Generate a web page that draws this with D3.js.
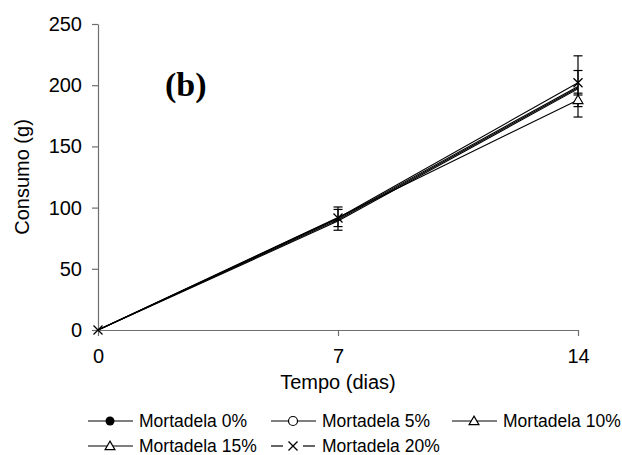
<!DOCTYPE html>
<html>
<head>
<meta charset="utf-8">
<script src="https://cdn.jsdelivr.net/npm/d3@7/dist/d3.min.js"></script>
<style>
  html, body { margin: 0; padding: 0; background: #fff; }
  svg { display: block; }
  text { fill: #000; }
</style>
</head>
<body>
<svg id="chart" width="622" height="455"></svg>
<script>
// Consumption (g) over time (days) for each mortadela level
const days = [0, 7, 14];
const xTicks = [0, 7, 14];
const yTicks = [0, 50, 100, 150, 200, 250];
const seriesNames = ["Mortadela 0%", "Mortadela 5%", "Mortadela 10%", "Mortadela 15%", "Mortadela 20%"];
const markerTypes = ["dot", "circle", "triangle", "triangle", "cross"];

const consumo0  = [0, 91, 199];
const consumo5  = [0, 90, 198];
const consumo10 = [0, 89, 197];
const consumo15 = [0, 92, 188];
const consumo20 = [0, 91.5, 202];

// standard deviations (0 = no bar drawn)
const erro0  = [0, 9.5, 25];
const erro5  = [0, 0, 0];
const erro10 = [0, 0, 0];
const erro15 = [0, 0, 5.5];
const erro20 = [0, 7, 10];

// days on which each series' marker is drawn on the plot
const markerDays0  = [];
const markerDays5  = [];
const markerDays10 = [];
const markerDays15 = [14];
const markerDays20 = [0, 7, 14];

const values = [consumo0, consumo5, consumo10, consumo15, consumo20];
const errors = [erro0, erro5, erro10, erro15, erro20];
const markerDays = [markerDays0, markerDays5, markerDays10, markerDays15, markerDays20];

const series = seriesNames.map((name, i) => ({
  name, marker: markerTypes[i],
  points: days.map((d, j) => ({ day: d, v: values[i][j], err: errors[i][j] }))
}));

const SANS = "'Liberation Sans', Arial, sans-serif";
const SERIF = "'Liberation Serif', 'Times New Roman', serif";

const svg = d3.select("#chart");
const x = d3.scaleLinear().domain([0, 14]).range([98, 578]);
const y = d3.scaleLinear().domain([0, 250]).range([330, 24]);
const axisColor = "#6e6e6e";

// axes
const yAxis = svg.append("g").attr("transform", `translate(${x(0)},0)`)
  .call(d3.axisLeft(y).tickValues(yTicks).tickSize(6).tickPadding(10).tickSizeOuter(0));
const xAxis = svg.append("g").attr("transform", `translate(0,${y(0)})`)
  .call(d3.axisBottom(x).tickValues(xTicks).tickSize(6).tickPadding(13).tickSizeOuter(0));
[yAxis, xAxis].forEach(g => {
  g.selectAll("path.domain").attr("stroke", axisColor).attr("stroke-width", 1.2);
  g.selectAll(".tick line").attr("stroke", axisColor).attr("stroke-width", 1.2);
  g.selectAll(".tick text").style("font-size", "20px").style("font-family", SANS).attr("fill", "#000");
});

// axis titles
svg.append("text").attr("x", (x(0) + x(14)) / 2).attr("y", 389)
  .attr("text-anchor", "middle").style("font-family", SANS).style("font-size", "20px").text("Tempo (dias)");
svg.append("text").attr("transform", `translate(29,${(y(0) + y(250)) / 2}) rotate(-90)`)
  .attr("text-anchor", "middle").style("font-family", SANS).style("font-size", "20px").text("Consumo (g)");

// panel label
svg.append("text").attr("x", 165).attr("y", 96)
  .style("font-family", SERIF).style("font-weight", "bold").style("font-size", "34px").text("(b)");

// lines
const line = d3.line().x(p => x(p.day)).y(p => y(p.v));
svg.append("g").selectAll("path").data(series).join("path")
  .attr("d", s => line(s.points))
  .attr("fill", "none").attr("stroke", "#000").attr("stroke-width", 1.1);

// error bars
const bars = svg.append("g").attr("stroke", "#000").attr("stroke-width", 1.2);
series.forEach(s => s.points.filter(p => p.err > 0).forEach(p => {
  const cx = x(p.day), cap = 4.5;
  bars.append("line").attr("x1", cx).attr("x2", cx).attr("y1", y(p.v + p.err)).attr("y2", y(p.v - p.err));
  [p.v + p.err, p.v - p.err].forEach(v =>
    bars.append("line").attr("x1", cx - cap).attr("x2", cx + cap).attr("y1", y(v)).attr("y2", y(v)));
}));

// marker drawing
function drawMarker(g, type, cx, cy) {
  if (type === "dot") {
    g.append("circle").attr("cx", cx).attr("cy", cy).attr("r", 4.5).attr("fill", "#000");
  } else if (type === "circle") {
    g.append("circle").attr("cx", cx).attr("cy", cy).attr("r", 4.5)
      .attr("fill", "#fff").attr("stroke", "#000").attr("stroke-width", 1.2);
  } else if (type === "triangle") {
    const sym = d3.symbol().type(d3.symbolTriangle).size(42);
    g.append("path").attr("d", sym()).attr("transform", `translate(${cx},${cy + 0.8})`)
      .attr("fill", "#fff").attr("stroke", "#000").attr("stroke-width", 1.2);
  } else if (type === "cross") {
    const h = 4.5;
    g.append("path").attr("d", `M${cx - h},${cy - h}L${cx + h},${cy + h}M${cx - h},${cy + h}L${cx + h},${cy - h}`)
      .attr("stroke", "#000").attr("stroke-width", 1.3).attr("fill", "none");
  }
}

const marks = svg.append("g");
series.forEach((s, i) => s.points.filter(p => markerDays[i].includes(p.day))
  .forEach(p => drawMarker(marks, s.marker, x(p.day), y(p.v))));

// legend
const legendPos = [[88, 427], [271, 427], [452, 427], [88, 452], [271, 452]];
const legend = svg.append("g");
series.forEach((s, i) => {
  const [lx, ly] = legendPos[i];
  const cy = ly - 6;
  const g = legend.append("g");
  if (s.marker === "cross") {
    g.append("line").attr("x1", lx).attr("x2", lx + 12).attr("y1", cy).attr("y2", cy).attr("stroke", "#000").attr("stroke-width", 1.2);
    g.append("line").attr("x1", lx + 32).attr("x2", lx + 44).attr("y1", cy).attr("y2", cy).attr("stroke", "#000").attr("stroke-width", 1.2);
  } else {
    g.append("line").attr("x1", lx).attr("x2", lx + 45).attr("y1", cy).attr("y2", cy).attr("stroke", "#000").attr("stroke-width", 1.2);
  }
  drawMarker(g, s.marker, lx + 22, cy);
  g.append("text").attr("x", lx + 51).attr("y", ly)
    .style("font-family", SANS).style("font-size", "17.5px").text(s.name);
});
</script>
</body>
</html>
